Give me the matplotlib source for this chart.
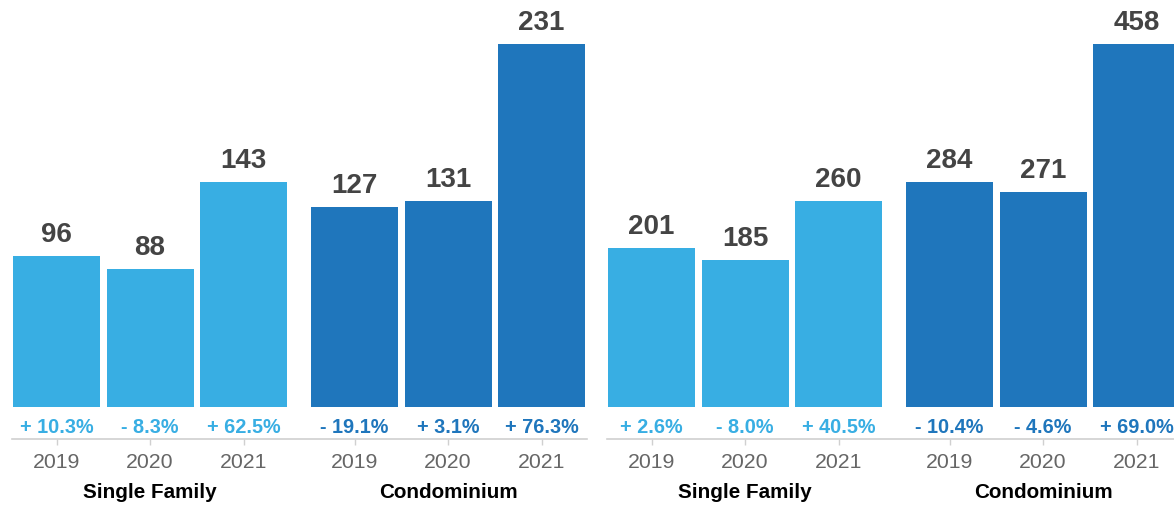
import matplotlib.pyplot as plt

plt.rcParams['font.family'] = ['Liberation Sans', 'DejaVu Sans']

# data
groups = ['Single Family', 'Condominium']
years = ['2019', '2020', '2021']

left_sf = [96, 88, 143]
left_condo = [127, 131, 231]
left_sf_pct = ['+ 10.3%', '- 8.3%', '+ 62.5%']
left_condo_pct = ['- 19.1%', '+ 3.1%', '+ 76.3%']

right_sf = [201, 185, 260]
right_condo = [284, 271, 458]
right_sf_pct = ['+ 2.6%', '- 8.0%', '+ 40.5%']
right_condo_pct = ['- 10.4%', '- 4.6%', '+ 69.0%']

light = '#38AEE3'
dark = '#1F76BC'

W, H = 1174, 506
fig = plt.figure(figsize=(W / 100, H / 100), dpi=100)

# bar layout (in units of bar pitch)
pitch = 93.5
width = 87 / pitch
group_shift = 111 / pitch
pos_sf = [0, 1, 2]
pos_condo = [2 + group_shift, 3 + group_shift, 4 + group_shift]


def panel(x0, x1, sf, condo, sf_pct, condo_pct, ymax):
    # axes spans from axis line (y=440px) up to the top of the figure
    ax = fig.add_axes([x0 / W, (H - 440) / H, (x1 - x0) / W, 440 / H])
    scale = (408 - 45) / ymax  # pixels per unit
    ax.set_ylim(-32 / scale, 408 / scale)
    first_center = x0 + 44.5
    ax.set_xlim((x0 - first_center) / pitch, (x1 - first_center) / pitch)

    for pos, vals, pcts, col in [(pos_sf, sf, sf_pct, light),
                                 (pos_condo, condo, condo_pct, dark)]:
        ax.bar(pos, vals, width=width, color=col)
        for x, v, p in zip(pos, vals, pcts):
            ax.annotate(str(v), (x, v), xytext=(0, 15), textcoords='offset pixels',
                        ha='center', va='baseline', fontsize=20,
                        fontweight='bold', color='#444444')
            ax.annotate(p, (x, 0), xytext=(0, -25), textcoords='offset pixels',
                        ha='center', va='baseline', fontsize=14.3,
                        fontweight='bold', color=col)
        for x, yr in zip(pos, years):
            ax.annotate(yr, (x, 0), xycoords=('data', 'axes fraction'),
                        xytext=(0, -28), textcoords='offset pixels',
                        ha='center', va='baseline', fontsize=15.3,
                        color='#666666', annotation_clip=False)

    for pos, name in zip([pos_sf, pos_condo], groups):
        ax.annotate(name, (pos[1], 0), xycoords=('data', 'axes fraction'),
                    xytext=(0, -58), textcoords='offset pixels',
                    ha='center', va='baseline', fontsize=14.9,
                    fontweight='bold', color='black', annotation_clip=False)

    for s in ['top', 'right', 'left']:
        ax.spines[s].set_visible(False)
    ax.spines['bottom'].set_color('#d0d0d0')
    ax.spines['bottom'].set_linewidth(1.2)
    ax.set_yticks([])
    ax.set_xticks(pos_sf + pos_condo)
    ax.tick_params(axis='x', direction='out', length=4, width=1,
                   color='#d0d0d0', labelbottom=False)
    return ax


panel(12, 587, left_sf, left_condo, left_sf_pct, left_condo_pct, 231)
panel(607, 1174, right_sf, right_condo, right_sf_pct, right_condo_pct, 458)

fig.savefig('out.png', dpi=100)
